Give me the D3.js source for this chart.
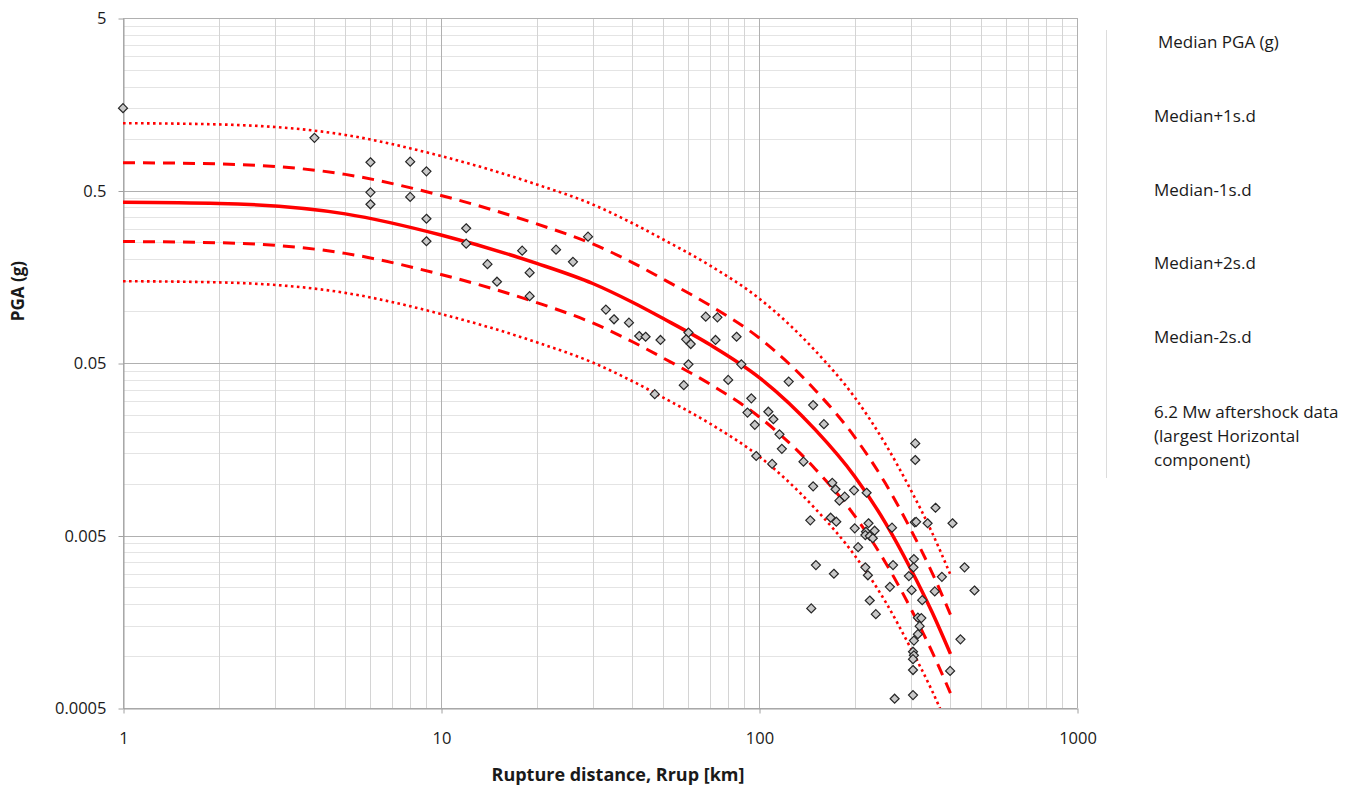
<!DOCTYPE html>
<html>
<head>
<meta charset="utf-8">
<script src="https://cdn.jsdelivr.net/npm/d3@7"></script>
<style>
	body { margin: 0; background: #fff; }
	svg text { font-family: 'Open Sans', sans-serif; fill: #1a1a1a; }
	.tick text { font-size: 16.5px; }
	.legend text { font-size: 17px; }
	.title { font-weight: bold; font-size: 17px; }
</style>
</head>
<body>
<div id="chart"></div>
<script>
// distances (km) used for the attenuation curves
const distances = [1, 2, 5, 10, 20, 30, 40, 50, 70, 100, 150, 200, 250, 300, 350, 400];
const median = [0.428, 0.421, 0.366, 0.276, 0.189, 0.1445, 0.1125, 0.0905, 0.064, 0.0413, 0.0206, 0.0110, 0.0059, 0.0032, 0.0018, 0.00103];
const plus1 = [0.725, 0.713, 0.620, 0.468, 0.320, 0.245, 0.191, 0.153, 0.108, 0.070, 0.0349, 0.0186, 0.0100, 0.00542, 0.00305, 0.00174];
const minus1 = [0.253, 0.249, 0.216, 0.163, 0.112, 0.0853, 0.0664, 0.0534, 0.0378, 0.0244, 0.0122, 0.0065, 0.00348, 0.00189, 0.00106, 0.00061];
const plus2 = [1.228, 1.208, 1.050, 0.792, 0.542, 0.415, 0.323, 0.260, 0.184, 0.1185, 0.0591, 0.0316, 0.0169, 0.0092, 0.0052, 0.00296];
const minus2 = [0.149, 0.1467, 0.1275, 0.0962, 0.0659, 0.0503, 0.0392, 0.0315, 0.0223, 0.0144, 0.00718, 0.00383, 0.00206, 0.00111, 0.00063, 0.00036];

// aftershock records: rupture distance (km) and PGA (g)
const recR = [1, 4, 6, 6, 6, 8, 8, 9, 9, 9, 12, 12, 14, 15, 18, 19, 19, 23, 26, 29,
	33, 35, 39, 42, 44, 49, 47, 58, 60, 59, 61, 60, 68, 74, 73, 85, 88, 80, 94.6, 92,
	107, 111, 124, 97, 148, 160, 116, 118, 98, 110, 138, 148, 170, 174, 186, 179, 199, 218, 145, 168,
	175, 200, 221, 217, 231, 216, 223, 228, 262, 310, 310, 359, 309, 312, 339, 406, 205, 151, 172, 216,
	220, 264, 307, 306, 296, 376, 443, 476, 258, 302, 357, 326, 223, 146, 233, 316, 324, 320, 316, 307,
	430, 305, 307, 305, 305, 399, 267, 305];
const recPGA = [1.50, 1.01, 0.729, 0.488, 0.416, 0.735, 0.459, 0.646, 0.343, 0.254, 0.302, 0.246, 0.187, 0.148, 0.224, 0.167, 0.122, 0.227, 0.193, 0.270,
	0.102, 0.0896, 0.0857, 0.0717, 0.0710, 0.068, 0.0330, 0.0372, 0.075, 0.0686, 0.0644, 0.0491, 0.0928, 0.0920, 0.068, 0.0710, 0.0491, 0.0399, 0.0312, 0.0258,
	0.0261, 0.0236, 0.039, 0.0219, 0.0285, 0.0221, 0.0193, 0.0159, 0.01445, 0.0130, 0.0134, 0.00964, 0.0101, 0.00927, 0.0084, 0.00796, 0.00914, 0.00885, 0.00612, 0.00634,
	0.00601, 0.00550, 0.00589, 0.00526, 0.00533, 0.00503, 0.00497, 0.00482, 0.00555, 0.0171, 0.0137, 0.00724, 0.00596, 0.00600, 0.00589, 0.00589, 0.00428, 0.00337, 0.00300, 0.00327,
	0.00294, 0.00337, 0.00365, 0.00327, 0.00291, 0.00288, 0.00327, 0.00240, 0.00252, 0.00241, 0.00237, 0.00211, 0.00210, 0.00189, 0.00175, 0.00167, 0.00166, 0.00149, 0.00134, 0.00123,
	0.00125, 0.00106, 0.00101, 0.00096, 0.00083, 0.00082, 0.000566, 0.000594];

const xTicks = [1, 10, 100, 1000];
const yTicks = [0.0005, 0.005, 0.05, 0.5, 5];
const minorSteps = [2, 3, 4, 5, 6, 7, 8, 9];

const legendLabels = ['Median PGA (g)', 'Median+1s.d', 'Median-1s.d', 'Median+2s.d', 'Median-2s.d',
	['6.2 Mw aftershock  data', '(largest Horizontal', 'component)']];

const width = 1350;
const height = 788;
const marginLeft = 123;
const marginRight = 273;
const marginTop = 18;
const marginBottom = 80;

const $svg = d3.select('#chart').append('svg')
	.attr('width', width)
	.attr('height', height);

const scaleX = d3.scaleLog().domain([1, 1000]).range([marginLeft, width - marginRight]);
const scaleY = d3.scaleLog().domain([0.0005, 5]).range([height - marginBottom, marginTop]);

const x0 = scaleX.range()[0], x1 = scaleX.range()[1];
const y0 = scaleY.range()[0], y1 = scaleY.range()[1];

// minor gridlines (each decade split from its own start value)
const xMinor = [];
xTicks.slice(0, -1).forEach(d => minorSteps.forEach(k => xMinor.push(d * k)));
const yMinor = [];
yTicks.slice(0, -1).forEach(d => minorSteps.forEach(k => yMinor.push(d * k)));

const $grid = $svg.append('g').attr('class', 'grid');
$grid.selectAll('.hminor').data(yMinor).join('line')
	.attr('x1', x0).attr('x2', x1)
	.attr('y1', d => Math.round(scaleY(d)) + 0.5).attr('y2', d => Math.round(scaleY(d)) + 0.5)
	.attr('stroke', '#e4e4e4');
$grid.selectAll('.vminor').data(xMinor).join('line')
	.attr('y1', y0).attr('y2', y1)
	.attr('x1', d => Math.round(scaleX(d)) + 0.5).attr('x2', d => Math.round(scaleX(d)) + 0.5)
	.attr('stroke', '#d4d4d4');
$grid.selectAll('.hmajor').data(yTicks).join('line')
	.attr('x1', x0).attr('x2', x1)
	.attr('y1', d => Math.round(scaleY(d)) + 0.5).attr('y2', d => Math.round(scaleY(d)) + 0.5)
	.attr('stroke', '#b0b0b0');
$grid.selectAll('.vmajor').data(xTicks).join('line')
	.attr('y1', y0).attr('y2', y1)
	.attr('x1', d => Math.round(scaleX(d)) + 0.5).attr('x2', d => Math.round(scaleX(d)) + 0.5)
	.attr('stroke', '#b0b0b0');

// axes
const $xAxis = $svg.append('g')
	.attr('transform', `translate(0.5,${Math.round(y0) + 0.5})`)
	.call(d3.axisBottom(scaleX).tickValues(xTicks).tickFormat(d => d).tickSize(5).tickSizeOuter(0).tickPadding(19));
const $yAxis = $svg.append('g')
	.attr('transform', `translate(${Math.round(x0) + 0.5},0.5)`)
	.call(d3.axisLeft(scaleY).tickValues(yTicks).tickFormat(d => d).tickSize(5).tickSizeOuter(0).tickPadding(12));
[$xAxis, $yAxis].forEach($a => {
	$a.select('.domain').attr('stroke', '#a0a0a0');
	$a.selectAll('.tick line').attr('stroke', '#a0a0a0');
	$a.selectAll('.tick text').attr('fill', '#1a1a1a').style('font-family', "'Open Sans', sans-serif");
});

// curves
$svg.append('clipPath').attr('id', 'plot-clip')
	.append('rect').attr('x', x0).attr('y', y1).attr('width', x1 - x0).attr('height', y0 - y1);

const line = d3.line()
	.x(d => scaleX(d[0]))
	.y(d => scaleY(d[1]))
	.curve(d3.curveMonotoneX);

const curves = [
	{ values: plus2, width: 2.6, dash: '2.6,3.4' },
	{ values: minus2, width: 2.6, dash: '2.6,3.4' },
	{ values: plus1, width: 3, dash: '12,8' },
	{ values: minus1, width: 3, dash: '12,8' },
	{ values: median, width: 3.5, dash: null }
];
const $lines = $svg.append('g').attr('clip-path', 'url(#plot-clip)');
curves.forEach(c => {
	$lines.append('path')
		.datum(distances.map((r, i) => [r, c.values[i]]))
		.attr('d', line)
		.attr('fill', 'none')
		.attr('stroke', '#ff0000')
		.attr('stroke-width', c.width)
		.attr('stroke-dasharray', c.dash);
});

// aftershock points
$svg.append('g').selectAll('path')
	.data(recR.map((r, i) => [r, recPGA[i]]))
	.join('path')
	.attr('d', 'M0,-4.5L4.5,0L0,4.5L-4.5,0Z')
	.attr('transform', d => `translate(${scaleX(d[0])},${scaleY(d[1])})`)
	.attr('fill', '#c8c8c8')
	.attr('stroke', '#262626')
	.attr('stroke-width', 1.2);

// axis titles
$svg.append('text').attr('class', 'title')
	.attr('x', 618).attr('y', 781)
	.attr('text-anchor', 'middle')
	.attr('textLength', 253).attr('lengthAdjust', 'spacingAndGlyphs')
	.text('Rupture distance, Rrup [km]');
$svg.append('text').attr('class', 'title')
	.attr('transform', 'translate(24,291) rotate(-90)')
	.attr('text-anchor', 'middle')
	.text('PGA (g)');

// legend (no symbols shown)
const $legend = $svg.append('g').attr('class', 'legend');
$legend.append('line')
	.attr('x1', 1106.5).attr('x2', 1106.5).attr('y1', 30).attr('y2', 478)
	.attr('stroke', '#dcdcdc');
const legendY = [42, 116, 190, 263, 337, 412];
legendLabels.forEach((lab, i) => {
	const lines = Array.isArray(lab) ? lab : [lab];
	const $t = $legend.append('text')
		.attr('x', i === 0 ? 1158 : 1154)
		.attr('y', legendY[i] + 6);
	lines.forEach((s, j) => {
		$t.append('tspan').attr('x', i === 0 ? 1158 : 1154).attr('dy', j === 0 ? 0 : 24).text(s);
	});
});
</script>
</body>
</html>
